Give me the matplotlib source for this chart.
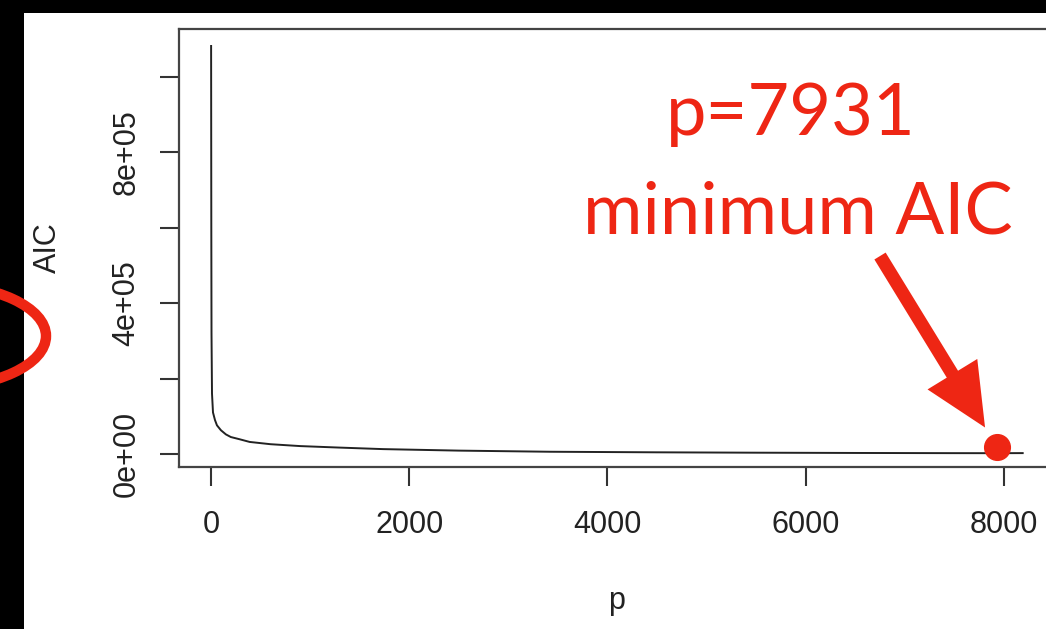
import matplotlib
matplotlib.use("Agg")
import matplotlib.pyplot as plt
from matplotlib.patches import Ellipse, Rectangle

# AIC curve
P_VALUES = [1, 3, 5, 10, 20, 40, 60, 100, 150, 200, 290, 390, 600, 900,
            1300, 1735, 2500, 3420, 4500, 5500, 6500, 7500, 7931, 8190]
AIC_VALUES = [1.081e6, 6.0e5, 3.2e5, 1.6e5, 1.1e5, 9.0e4, 7.6e4, 6.3e4,
              5.2e4, 4.5e4, 3.9e4, 3.2e4, 2.6e4, 2.1e4, 1.7e4, 1.3e4,
              9.0e3, 6.0e3, 4.5e3, 3.5e3, 2.8e3, 2.3e3, 2.2e3, 2.4e3]

X_TICKS = [0, 2000, 4000, 6000, 8000]
Y_TICKS = [0, 2e5, 4e5, 6e5, 8e5, 1e6]
Y_TICK_LABELS = ["0e+00", "", "4e+05", "", "8e+05", ""]

BEST_P = 7931
BEST_MARK_AIC = 1.85e4

RED = "#ee2614"
W, H = 1046, 629

fig = plt.figure(figsize=(W / 100, H / 100), dpi=100)
fig.patch.set_facecolor("white")

# main R-style plot, right edge runs off the screenshot
ax = fig.add_axes([179 / W, 1 - 467 / H, 876 / W, 438 / H])
ax.plot(P_VALUES, AIC_VALUES, color="#222222", lw=1.4)
ax.set_xlim(-323, 8516)
ax.set_ylim(-3.44e4, 1.126e6)

ax.set_xticks(X_TICKS, [str(t) for t in X_TICKS])
ax.set_yticks(Y_TICKS, Y_TICK_LABELS)
for lab in ax.get_yticklabels():
    lab.set_rotation(90)
    lab.set_va("center")
ax.tick_params(axis="both", direction="out", length=14, width=1.5,
               color="#333333", labelsize=22, labelcolor="#222222")
ax.tick_params(axis="x", pad=17)
ax.tick_params(axis="y", pad=13)
for lab in ax.get_xticklabels() + ax.get_yticklabels():
    lab.set_fontfamily("Liberation Sans")
for sp in ax.spines.values():
    sp.set_linewidth(1.6)
    sp.set_color("#444444")

ax.set_xlabel("p", fontsize=22, family="Liberation Sans", color="#222222", va="baseline")
ax.xaxis.set_label_coords(0.5, (467 - 609) / 438)
ax.set_ylabel("AIC", fontsize=22, family="Liberation Sans", color="#222222", va="center")
ax.yaxis.set_label_coords((48 - 179) / 876, 0.5)

# marked minimum and arrow
ax.plot([BEST_P], [BEST_MARK_AIC], "o", color=RED, ms=18.5, clip_on=False, zorder=5)
ax.annotate("", xy=(BEST_P, BEST_MARK_AIC), xycoords="data",
            xytext=(-117, 191), textcoords="offset pixels",
            arrowprops=dict(arrowstyle="simple,head_length=45,head_width=42,tail_width=9.5",
                            mutation_scale=1, color=RED, lw=0,
                            shrinkA=0, shrinkB=16.5),
            annotation_clip=False)

fig.text(791 / W, 1 - 135 / H, "p=7931", color=RED, fontsize=52,
         family="Lato", ha="center", va="baseline")
fig.text(798 / W, 1 - 233 / H, "minimum AIC", color=RED, fontsize=52,
         family="Lato", ha="center", va="baseline")

# screenshot frame and the stray red circle on the left
over = fig.add_axes([0, 0, 1, 1], facecolor="none")
over.set_xlim(0, W)
over.set_ylim(H, 0)
over.axis("off")
over.add_patch(Rectangle((0, 0), 24, H, color="black", lw=0))
over.add_patch(Rectangle((0, 0), W, 13, color="black", lw=0))
over.add_patch(Ellipse((-66, 336), 224, 104, fill=False, edgecolor=RED, lw=7.5))

fig.savefig("out.png", dpi=100)
